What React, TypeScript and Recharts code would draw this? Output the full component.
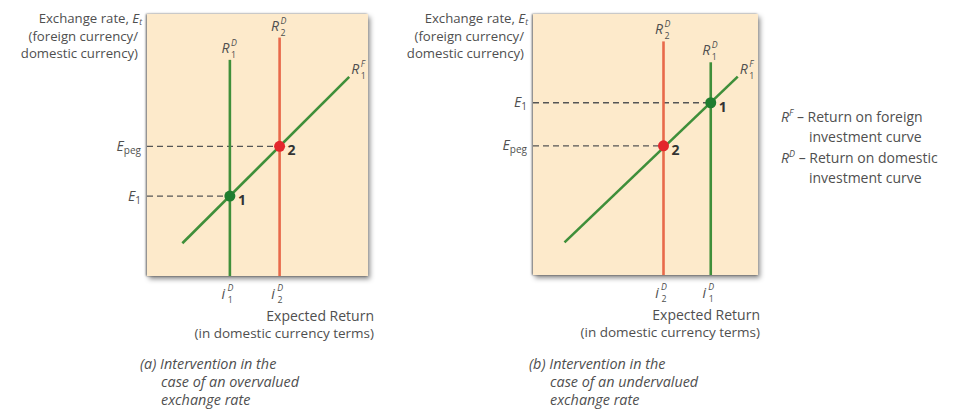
import { ComposedChart, Line, XAxis, YAxis, ReferenceLine, ReferenceDot } from 'recharts';

// panel (a): overvalued exchange rate, R^D shifts right
const rfLineA = [{ r: 16, e: 12.5 }, { r: 91.5, e: 76 }];
const rdReturnA = [37.5, 60]; // i1D, i2D
const rdTopA = [82.5, 91];
const returnLabelsA = ['1', '2'];
const ratesA = [30.5, 49.5]; // E1, Epeg
const rateLabelsA = ['1', 'peg'];

// panel (b): undervalued exchange rate, R^D shifts left
const rfLineB = [{ r: 14, e: 12.5 }, { r: 91, e: 76 }];
const rdReturnB = [79, 58];
const rdTopB = [81.5, 89.5];
const returnLabelsB = ['1', '2'];
const ratesB = [66, 49.5];
const rateLabelsB = ['1', 'peg'];

const FONT = '"Open Sans", sans-serif';
const TEXT = '#4f4f4f';
const GREEN = '#3f8f3a';
const RED = '#e8694a';
const DOT_GREEN = '#1f7d2f';
const DOT_RED = '#e3262c';
const BOX = '#fdeacb';

const lineColors = [GREEN, RED];
const dotColors = [DOT_GREEN, DOT_RED];

// italic R with a stacked superscript and subscript
function CurveName({ x, y, sup, sub }: { x: number; y: number; sup: string; sub: string }) {
  return (
    <g fontFamily={FONT} fill={TEXT}>
      <text x={x} y={y} fontSize={14} fontStyle="italic">R</text>
      <text x={x + 9.5} y={y - 7} fontSize={8.8} fontStyle="italic">{sup}</text>
      <text x={x + 9.5} y={y + 5} fontSize={8.8}>{sub}</text>
    </g>
  );
}

const center = (vb: any) => ({ cx: vb.x + vb.width / 2, cy: vb.y + vb.height / 2 });

const rateTick = (values: number[], labels: string[]) => (props: any) => {
  const { x, y, payload } = props;
  const sub = labels[values.indexOf(payload.value)];
  return (
    <text x={x - 6} y={y + 4.5} textAnchor="end" fill={TEXT} fontFamily={FONT} fontSize={14}>
      <tspan fontStyle="italic">E</tspan>
      <tspan fontSize={10} dy={3}>{sub}</tspan>
    </text>
  );
};

const returnTick = (values: number[], labels: string[]) => (props: any) => {
  const { x, y, payload } = props;
  const sub = labels[values.indexOf(payload.value)];
  return (
    <g fill={TEXT} fontFamily={FONT}>
      <text x={x - 6.5} y={y + 23} textAnchor="middle" fontSize={14} fontStyle="italic">i</text>
      <text x={x + 0.5} y={y + 15} textAnchor="middle" fontSize={8.8} fontStyle="italic">D</text>
      <text x={x + 0.5} y={y + 27} textAnchor="middle" fontSize={8.8}>{sub}</text>
    </g>
  );
};

type PanelProps = {
  rf: { r: number; e: number }[];
  returns: number[];
  tops: number[];
  returnLabels: string[];
  rates: number[];
  rateLabels: string[];
  margin: { top: number; right: number; bottom: number; left: number };
  xTitleShift: number;
};

function Panel({ rf, returns, tops, returnLabels, rates, rateLabels, margin, xTitleShift }: PanelProps) {
  const verticals = returns.map((r, k) => [{ r, e: 0 }, { r, e: tops[k] }]);
  const rfEnd = rf[rf.length - 1];
  return (
    <ComposedChart width={390} height={345} margin={margin}>
      <XAxis
        type="number"
        dataKey="r"
        domain={[0, 100]}
        ticks={returns}
        interval={0}
        height={30}
        axisLine={false}
        tickLine={false}
        tickSize={0}
        tickMargin={0}
        tick={returnTick(returns, returnLabels)}
        label={{
          content: (p: any) => {
            const vb = p.viewBox;
            const x = vb.x + vb.width + xTitleShift;
            return (
              <g fill={TEXT} fontFamily={FONT} textAnchor="end">
                <text x={x} y={vb.y + 45} fontSize={14}>Expected Return</text>
                <text x={x} y={vb.y + 62} fontSize={13.5}>(in domestic currency terms)</text>
              </g>
            );
          },
        }}
      />
      <YAxis
        type="number"
        dataKey="e"
        domain={[0, 100]}
        ticks={rates}
        interval={0}
        width={60}
        axisLine={false}
        tickLine={false}
        tickSize={0}
        tickMargin={0}
        tick={rateTick(rates, rateLabels)}
        label={{
          content: (p: any) => {
            const vb = p.viewBox;
            const x = vb.x + vb.width;
            return (
              <g fill={TEXT} fontFamily={FONT} fontSize={13.2} textAnchor="end">
                <text x={x - 5} y={vb.y + 9}>
                  Exchange rate, <tspan fontStyle="italic">E</tspan>
                  <tspan fontSize={8.5} dy={2} fontStyle="italic">t</tspan>
                </text>
                <text x={x - 9} y={vb.y + 26.5}>(foreign currency/</text>
                <text x={x - 9} y={vb.y + 44}>domestic currency)</text>
              </g>
            );
          },
        }}
      />
      {rates.map((e, k) => (
        <ReferenceLine
          key={'d' + k}
          segment={[{ x: 0, y: e }, { x: returns[k], y: e }]}
          stroke="#555"
          strokeWidth={1.3}
          strokeDasharray="6 4"
        />
      ))}
      {verticals.map((v, k) => (
        <Line
          key={'v' + k}
          data={v}
          dataKey="e"
          stroke={lineColors[k]}
          strokeWidth={2.6}
          dot={false}
          activeDot={false}
          isAnimationActive={false}
        />
      ))}
      <Line
        data={rf}
        dataKey="e"
        stroke={GREEN}
        strokeWidth={2.6}
        dot={false}
        activeDot={false}
        isAnimationActive={false}
      />
      {returns.map((r, k) => (
        <ReferenceDot
          key={'n' + k}
          x={r}
          y={tops[k]}
          r={0}
          fill="none"
          stroke="none"
          label={{
            content: (p: any) => {
              const { cx, cy } = center(p.viewBox);
              return <CurveName x={cx - 8.5} y={cy - 7} sup="D" sub={returnLabels[k]} />;
            },
          }}
        />
      ))}
      <ReferenceDot
        x={rfEnd.r}
        y={rfEnd.e}
        r={0}
        fill="none"
        stroke="none"
        label={{
          content: (p: any) => {
            const { cx, cy } = center(p.viewBox);
            return <CurveName x={cx + 2} y={cy - 3} sup="F" sub="1" />;
          },
        }}
      />
      {returns.map((r, k) => (
        <ReferenceDot
          key={'p' + k}
          x={r}
          y={rates[k]}
          r={5.5}
          fill={dotColors[k]}
          stroke="none"
          label={{
            content: (p: any) => {
              const { cx, cy } = center(p.viewBox);
              return (
                <text x={cx + 8} y={cy + 9} fill="#333" fontFamily={FONT} fontSize={14} fontWeight={700}>
                  {String(k + 1)}
                </text>
              );
            },
          }}
        />
      ))}
    </ComposedChart>
  );
}

const boxStyle = {
  position: 'absolute' as const,
  background: BOX,
  boxShadow: '-1px 0 2px rgba(0,0,0,0.55), 2px 3px 5px rgba(0,0,0,0.45)',
};

export default function App() {
  return (
    <div style={{ position: 'absolute', left: 0, top: 0, width: 954, height: 410, background: '#fff', overflow: 'hidden' }}>
      <div style={{ ...boxStyle, left: 147, top: 14, width: 221, height: 262 }} />
      <div style={{ ...boxStyle, left: 533, top: 14, width: 225, height: 261 }} />
      <div style={{ position: 'absolute', left: 0, top: 0 }}>
        <Panel
          rf={rfLineA}
          returns={rdReturnA}
          tops={rdTopA}
          returnLabels={returnLabelsA}
          rates={ratesA}
          rateLabels={rateLabelsA}
          margin={{ top: 14, right: 22, bottom: 39, left: 87 }}
          xTitleShift={6}
        />
      </div>
      <div style={{ position: 'absolute', left: 390, top: 0 }}>
        <Panel
          rf={rfLineB}
          returns={rdReturnB}
          tops={rdTopB}
          returnLabels={returnLabelsB}
          rates={ratesB}
          rateLabels={rateLabelsB}
          margin={{ top: 14, right: 22, bottom: 40, left: 83 }}
          xTitleShift={2}
        />
      </div>
      <svg width={954} height={410} style={{ position: 'absolute', left: 0, top: 0, pointerEvents: 'none' }}>
        <g fill={TEXT} fontFamily={FONT} fontSize={14}>
          <text x={781} y={122}>
            <tspan fontStyle="italic">R</tspan>
            <tspan fontSize={9} dy={-6} fontStyle="italic">F</tspan>
            <tspan dy={6}> – Return on foreign</tspan>
          </text>
          <text x={809} y={142}>investment curve</text>
          <text x={781} y={163}>
            <tspan fontStyle="italic">R</tspan>
            <tspan fontSize={9} dy={-6} fontStyle="italic">D</tspan>
            <tspan dy={6}> – Return on domestic</tspan>
          </text>
          <text x={809} y={183}>investment curve</text>
        </g>
        <g fill={TEXT} fontFamily={FONT} fontSize={14.4} fontStyle="italic">
          <text x={140} y={369}>(a) Intervention in the</text>
          <text x={161} y={387}>case of an overvalued</text>
          <text x={161} y={405}>exchange rate</text>
          <text x={529} y={369}>(b) Intervention in the</text>
          <text x={550} y={387}>case of an undervalued</text>
          <text x={550} y={405}>exchange rate</text>
        </g>
      </svg>
    </div>
  );
}
